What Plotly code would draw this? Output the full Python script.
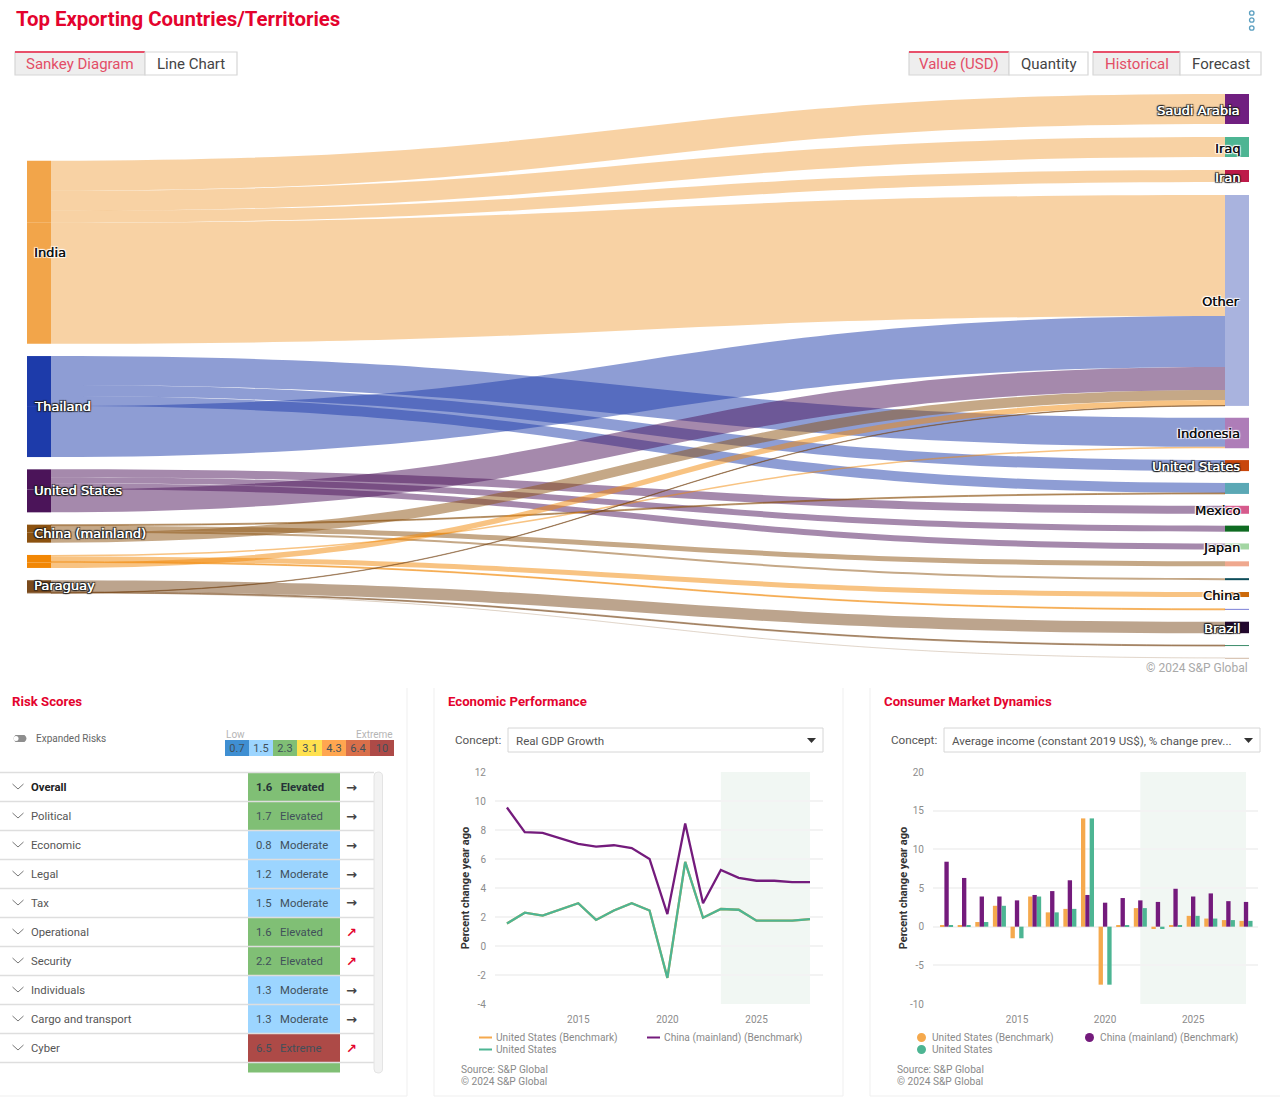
import plotly.graph_objects as go

W, H = 1280, 1112
SANS = "Roboto, Arial, sans-serif"
LAB = "DejaVu Sans, sans-serif"
RED = "#E4032E"
GREY = "#8C8C8C"

# ---- data ----
source_names = ["India", "Thailand", "United States", "China (mainland)", "", "Paraguay"]
source_colors = ["#F2A54A", "#1D3BAA", "#4B1459", "#8C5210", "#F28705", "#7A4A1C"]
target_names = ["Saudi Arabia", "Iraq", "Iran", "Other", "Indonesia", "United States", "", "Mexico", "",
                "Japan", "", "", "China", "", "Brazil", "", ""]
target_colors = ["#701F80", "#4DB593", "#BD1A49", "#A9B3DE", "#AE7DB8", "#C9460B", "#5BA8B5", "#D65A8C", "#0F6B22",
                 "#A3D6A3", "#EFA88E", "#0E4D5A", "#CC6A0A", "#7B7FD6", "#22082E", "#3C8C6A", "#A0704A"]
# exports (source index, target index, value)
link_source = [0, 0, 0, 0,  1, 1, 1, 1,  2, 2, 2, 2,  3, 3, 3, 3,  4, 4, 4, 4,  5, 5, 5, 5]
link_target = [0, 1, 2, 3,  4, 5, 6, 3,  7, 8, 9, 3,  6, 10, 11, 3,  4, 12, 13, 3,  14, 15, 16, 3]
link_value = [30, 20, 12, 121,  29, 11, 10, 51,  8, 6, 6, 23,  1, 5, 2, 10,  1.5, 5, 1, 5.5,  11.5, 1, 0.1, 0.4]

years = list(range(2011, 2029))
gdp_china = [9.55, 7.85, 7.8, 7.4, 7.05, 6.85, 6.95, 6.75, 6.0, 2.2, 8.45, 2.95, 5.25, 4.7, 4.5, 4.5, 4.4, 4.4]
gdp_us = [1.55, 2.3, 2.1, 2.5, 2.95, 1.8, 2.45, 2.95, 2.45, -2.2, 5.8, 1.95, 2.55, 2.5, 1.75, 1.75, 1.75, 1.85]
inc_china = [8.4, 6.3, 3.9, 3.9, 3.4, 4.1, 4.6, 6.0, 4.1, 3.1, 3.7, 3.4, 3.2, 4.9, 3.9, 4.3, 3.3, 3.2]
inc_us = [0.2, 0.2, 0.6, 2.7, -1.5, 3.9, 1.85, 2.3, 14, -7.5, 0.2, 2.4, -0.3, 0.2, 1.4, 1.05, 0.85, 0.75]
gdp_ticks = [-4, -2, 0, 2, 4, 6, 8, 10, 12]
inc_ticks = [-10, -5, 0, 5, 10, 15, 20]

risk_names = ["Overall", "Political", "Economic", "Legal", "Tax", "Operational", "Security", "Individuals",
              "Cargo and transport", "Cyber", "Criminal risk"]
risk_scores = [1.6, 1.7, 0.8, 1.2, 1.5, 1.6, 2.2, 1.3, 1.3, 6.5, 1.9]
risk_levels = ["Elevated", "Elevated", "Moderate", "Moderate", "Moderate", "Elevated", "Elevated", "Moderate",
               "Moderate", "Extreme", "Elevated"]
risk_trend = ["→", "→", "→", "→", "→", "↗", "↗", "→", "→", "↗", "→"]
level_colors = {"Moderate": "#9CD5FF", "Elevated": "#80BF75", "Extreme": "#AD4A47"}
scale_values = [0.7, 1.5, 2.3, 3.1, 4.3, 6.4, 10]
scale_colors = ["#3F8FD2", "#9CD5FF", "#80BF75", "#FFE14F", "#FFA650", "#D96F4A", "#AD4A47"]

C_US, C_CN, C_GR = "#F5A94D", "#741B7C", "#4DB593"


def rgba(hexc, a):
    return f"rgba({int(hexc[1:3],16)},{int(hexc[3:5],16)},{int(hexc[5:7],16)},{a})"


def px(x):
    return x / W


def py(y):
    return 1 - y / H


shapes, ann = [], []


def text(x, y, s, size=12, color="#333", anchor="left", font=SANS, v="middle", shadow=None, **kw):
    f = dict(family=font, size=size, color=color)
    if shadow:
        f["shadow"] = shadow
    ann.append(dict(xref="paper", yref="paper", x=px(x), y=py(y), text=s, showarrow=False, xanchor=anchor,
                    yanchor=v, font=f, borderpad=0, **kw))


def rect(x0, y0, x1, y1, fill=None, line=None, lw=1):
    shapes.append(dict(type="rect", xref="paper", yref="paper", x0=px(x0), x1=px(x1), y0=py(y0), y1=py(y1),
                       fillcolor=fill or "rgba(0,0,0,0)", line=dict(color=line or "rgba(0,0,0,0)", width=lw if line else 0)))


def path(d, fill=None, line=None, lw=1):
    shapes.append(dict(type="path", xref="paper", yref="paper", path=d, fillcolor=fill or "rgba(0,0,0,0)",
                       line=dict(color=line or "rgba(0,0,0,0)", width=lw if line else 0)))


def P(x, y):
    return f"{px(x)},{py(y)}"


# ---- sankey layout, derived from the values (1 value unit = 1 px) ----
S_TOP, S_BOT = 94, 658
S_H = S_BOT - S_TOP
NODE_W = 24
LEFT_X, RIGHT_X = 39, 1237
OTHER = target_names.index("Other")
src_total = [sum(v for s, v in zip(link_source, link_value) if s == i) for i in range(len(source_names))]
src_other = [sum(v for s, t, v in zip(link_source, link_target, link_value) if s == i and t == OTHER)
             for i in range(len(source_names))]
tgt_total = [sum(v for t, v in zip(link_target, link_value) if t == i) for i in range(len(target_names))]
gap_top = 13  # first three gaps on the right
gap_r = (S_H - sum(tgt_total) - 3 * gap_top) / (len(tgt_total) - 4)
gap_l = 12.3
tgt_y0 = []
y = S_TOP
for i, v in enumerate(tgt_total):
    tgt_y0.append(y)
    y += v + (gap_top if i < 3 else gap_r)
src_y0 = []
y = S_TOP + (S_H - sum(src_total) - gap_l * 5) / 2 + 1
for v in src_total:
    src_y0.append(y)
    y += v + gap_l


def sankey_trace(others):
    """Each source's flows to 'Other' leave from the bottom of its node, so they are drawn as their own layer."""
    picks = [i for i, t in enumerate(link_target) if (t == OTHER) == others]
    tg = [OTHER] if others else [i for i in range(len(target_names)) if i != OTHER]
    n_s = len(source_names)
    total = sum(link_value[i] for i in picks)  # domain of this height with no padding gives 1 value unit = 1 px
    labels, colors, xs, ys = [], [], [], []
    for i in range(n_s):
        part = src_other[i] if others else src_total[i] - src_other[i]
        top = src_y0[i] + (src_total[i] - src_other[i] if others else 0)
        labels.append("")
        colors.append(source_colors[i])
        xs.append(LEFT_X / W)
        ys.append((top + part / 2 - S_TOP) / total)
    for t in tg:
        labels.append("")
        colors.append(target_colors[t])
        xs.append(RIGHT_X / W)
        ys.append((tgt_y0[t] + tgt_total[t] / 2 - S_TOP) / total)
    return go.Sankey(
        arrangement="fixed", domain=dict(x=[0, 1], y=[py(S_TOP + total), py(S_TOP)]),
        node=dict(label=labels, color=colors, x=xs, y=ys, pad=0, thickness=NODE_W, line=dict(width=0)),
        link=dict(source=[link_source[i] for i in picks],
                  target=[n_s + tg.index(link_target[i]) for i in picks],
                  value=[link_value[i] for i in picks],
                  color=[rgba(source_colors[link_source[i]], 0.5 if link_value[i] > 0.2 else 0.12) for i in picks],
                  line=dict(width=0)),
        textfont=dict(size=1, color="rgba(0,0,0,0)"))


traces = [sankey_trace(False), sankey_trace(True)]

DARK = "0.3px 0 0 #111, 0 0 1px #fff, 1px 1px 1px #fff, -1px -1px 1px #fff, 1px -1px 1px #fff, -1px 1px 1px #fff"
LIGHT = "0.3px 0 0 #fff, 0 0 1px #222, 1px 1px 1px #222, -1px -1px 1px #222, 1px -1px 1px #222, -1px 1px 1px #222"
for i, n in enumerate(source_names):
    if n:
        text(32.5, src_y0[i] + src_total[i] / 2 - (0 if i != 5 else 1), n, 13, "#fff" if i else "#111", font=LAB,
             shadow=LIGHT if i else DARK)
light_t = {"Saudi Arabia", "Iran", "United States", "Brazil"}
for i, n in enumerate(target_names):
    if n:
        t = n in light_t
        text(1241, tgt_y0[i] + tgt_total[i] / 2 + 1, n, 13, "#fff" if t else "#111", "right", LAB,
             shadow=LIGHT if t else DARK)
text(1249, 668, "© 2024 S&P Global", 12, "#A8A8A8", "right")

# ---- header ----
text(15, 19, "<b>Top Exporting Countries/Territories</b>", 20.4, RED)
for cy in (13, 20, 28):
    shapes.append(dict(type="circle", xref="paper", yref="paper", x0=px(1249.5), x1=px(1254), y0=py(cy + 2.2),
                       y1=py(cy - 2.2), line=dict(color="#5B9FC0", width=1.3), fillcolor="white"))


def button(x0, x1, label, on):
    rect(x0, 52, x1, 75, "#EEEEEE" if on else "white", "#D6D6D6", 1.2)
    if on:
        rect(x0, 51, x1, 53, "#E8506A")
    text((x0 + x1) / 2, 63.5, label, 15, "#E34D66" if on else "#444", "center")


for b in [(15, 145, "Sankey Diagram", True), (145, 237, "Line Chart", False), (909, 1009, "Value (USD)", True),
          (1009, 1088, "Quantity", False), (1093, 1180, "Historical", True), (1180, 1261, "Forecast", False)]:
    button(*b)

# ---- panels ----
for x in (407, 434, 843, 870):
    shapes.append(dict(type="line", xref="paper", yref="paper", x0=px(x), x1=px(x), y0=py(688), y1=py(1096),
                       line=dict(color="#EFEFEF", width=1)))
for a, b in ((0, 407), (434, 843), (870, 1280)):
    shapes.append(dict(type="line", xref="paper", yref="paper", x0=px(a), x1=px(b), y0=py(1096), y1=py(1096),
                       line=dict(color="#EFEFEF", width=1)))
text(10.5, 701, "<b>Risk Scores</b>", 13.2, RED)
text(446.5, 701, "<b>Economic Performance</b>", 13.2, RED)
text(882.5, 701, "<b>Consumer Market Dynamics</b>", 13.2, RED)

# ---- risk panel ----
path(f"M{P(15.5,735)} L{P(24.5,735)} Q{P(28.5,738.5)} {P(24.5,742)} L{P(15.5,742)} Q{P(11.5,738.5)} {P(15.5,735)} Z", "#8E8E8E")
shapes.append(dict(type="circle", xref="paper", yref="paper", x0=px(13.5), x1=px(18.5), y0=py(741), y1=py(736),
                   fillcolor="white", line=dict(width=0)))
text(35, 738.5, "Expanded Risks", 10, "#666")
text(225, 734, "Low", 10, "#B5B5B5")
text(394, 734, "Extreme", 10, "#B5B5B5", "right")

ROW_TOP, ROW_H, T_BOT, T_R = 772.5, 29, 1073, 374
HEAD_H = 16  # an empty table header still takes its padding
traces.append(go.Table(
    domain=dict(x=[0, px(T_R)], y=[py(T_BOT), py(ROW_TOP - HEAD_H)]),
    columnwidth=[23, 225, 92, 34],
    header=dict(values=None, height=0, line=dict(width=0), fill=dict(color="rgba(0,0,0,0)")),
    cells=dict(
        values=[[""] * len(risk_names),
                [f"<b>{n}</b>" if i == 0 else f"{n}&nbsp;" for i, n in enumerate(risk_names)],
                [(f"<b>{s:.1f}&nbsp;&nbsp;&nbsp;{l}</b>" if i == 0 else f"{s:.1f}&nbsp;&nbsp;&nbsp;{l}")
                 for i, (s, l) in enumerate(zip(risk_scores, risk_levels))],
                [""] * len(risk_names)],
        height=ROW_H,
        line=dict(width=0),
        fill=dict(color=[["white"] * len(risk_names), ["white"] * len(risk_names),
                         [level_colors[l] for l in risk_levels], ["white"] * len(risk_names)]),
        font=dict(family=SANS, size=11.3,
                  color=[["#444"] * len(risk_names),
                         ["#222" if i == 0 else "#555" for i in range(len(risk_names))],
                         ["#263238" if i == 0 else "#41505A" for i in range(len(risk_names))],
                         ["#444"] * len(risk_names)]),
        align="left")))
for i in range(len(risk_names)):
    ry = ROW_TOP + i * ROW_H
    shapes.append(dict(type="line", xref="paper", yref="paper", x0=0, x1=px(T_R), y0=py(ry), y1=py(ry),
                       line=dict(color="#DEDEDE", width=1.5)))
    if ry + 14 < T_BOT:
        path(f"M{P(12.5,ry+11.5)} L{P(18,ry+16.5)} L{P(23.5,ry+11.5)}", None, "#777", 1)
        text(351, ry + 14.5, f"<b>{risk_trend[i]}</b>", 13, "#444" if risk_trend[i] == "→" else RED, "center", LAB)
path(f"M{P(374,776)} Q{P(374,772)} {P(378,772)} Q{P(382.5,772)} {P(382.5,776)} L{P(382.5,1069)} Q{P(382.5,1073)} {P(378,1073)} "
     f"Q{P(374,1073)} {P(374,1069)} Z", "#F3F3F3", "#E4E4E4", 1)

# colour scale
traces.append(go.Heatmap(
    z=[list(range(len(scale_values)))], x=[str(v) for v in scale_values], y=["scale"],
    text=[[str(v) for v in scale_values]], texttemplate="%{text}", textfont=dict(family=SANS, size=11, color="#41505A"),
    colorscale=[[i / (len(scale_colors) - 1), c] for i, c in enumerate(scale_colors)], showscale=False,
    xaxis="x3", yaxis="y3", hoverinfo="skip"))


# ---- dropdowns ----
def dropdown(lx, x0, x1, label):
    text(lx, 740, "Concept:", 11.7, "#555")
    rect(x0, 728, x1, 752, "white", "#D6D6D6", 1)
    text(x0 + 7, 740.5, label, 11.6, "#555")
    path(f"M{P(x1-16,738)} L{P(x1-7,738)} L{P(x1-11.5,743)} Z", "#333")


dropdown(454, 508, 823, "Real GDP Growth")
dropdown(890, 944, 1260, "Average income (constant 2019 US$), % change prev...")

# ---- charts ----
LW = 2.3
traces += [
    go.Scatter(x=years, y=gdp_us, name="United States (Benchmark)", mode="lines", line=dict(color=C_US, width=LW), xaxis="x", yaxis="y"),
    go.Scatter(x=years, y=gdp_china, name="China (mainland) (Benchmark)", mode="lines", line=dict(color=C_CN, width=LW), xaxis="x", yaxis="y"),
    go.Scatter(x=years, y=gdp_us, name="United States", mode="lines", line=dict(color=C_GR, width=LW), xaxis="x", yaxis="y"),
    go.Bar(x=years, y=inc_us, name="United States (Benchmark)", marker=dict(color=C_US, line=dict(width=0)), xaxis="x2", yaxis="y2"),
    go.Bar(x=years, y=inc_china, name="China (mainland) (Benchmark)", marker=dict(color=C_CN, line=dict(width=0)), xaxis="x2", yaxis="y2"),
    go.Bar(x=years, y=inc_us, name="United States", marker=dict(color=C_GR, line=dict(width=0)), xaxis="x2", yaxis="y2"),
]
BAND = "#F1F7F3"
shapes.append(dict(type="rect", xref="x", yref="paper", x0=2023, x1=2028, y0=py(1004), y1=py(772), fillcolor=BAND, line=dict(width=0), layer="below"))
shapes.append(dict(type="rect", xref="x2", yref="paper", x0=2022, x1=2028, y0=py(1004), y1=py(772), fillcolor=BAND, line=dict(width=0), layer="below"))


def legend(x_a, x_b, x_c, kind):
    rows = [(x_a, 1037.5, C_US, "United States (Benchmark)"), (x_b, 1037.5, C_CN, "China (mainland) (Benchmark)"),
            (x_a, 1049.5, C_GR, "United States")]
    for x, y_, c, s in rows:
        if kind == "line":
            shapes.append(dict(type="line", xref="paper", yref="paper", x0=px(x), x1=px(x + 13), y0=py(y_), y1=py(y_), line=dict(color=c, width=2)))
        else:
            shapes.append(dict(type="circle", xref="paper", yref="paper", x0=px(x + 2), x1=px(x + 11), y0=py(y_ + 4.5), y1=py(y_ - 4.5), fillcolor=c, line=dict(width=0)))
        text(x + 16, y_, s, 10.2, "#8A8A8A")
    text(x_c, 1069, "Source: S&P Global", 10.2, "#8A8A8A")
    text(x_c, 1081, "© 2024 S&P Global", 10.2, "#8A8A8A")


legend(479, 647, 460, "line")
legend(915, 1083, 896, "dot")

TICK = dict(family=SANS, size=10, color=GREY)


def xaxis(x0, x1, rng, anchor):
    return dict(domain=[px(x0), px(x1)], range=rng, tickvals=[2015, 2020, 2025], showgrid=False, zeroline=False,
                showline=False, ticks="", tickfont=TICK, ticklabelstandoff=8, anchor=anchor, fixedrange=True)


def yaxis(anchor, ticks, standoff):
    return dict(domain=[py(1004), py(772)], range=[ticks[0], ticks[-1]], tickvals=ticks, ticktext=[str(t) for t in ticks],
                gridcolor="#F3F3F3", gridwidth=1.5, zeroline=False, showline=False, ticks="", tickfont=TICK,
                ticklabelstandoff=8, anchor=anchor, fixedrange=True,
                title=dict(text="<b>Percent change year ago</b>", font=dict(family=SANS, size=11, color="#333"), standoff=standoff))


layout = dict(
    width=W, height=H, margin=dict(l=0, r=0, t=0, b=0, autoexpand=False), paper_bgcolor="white", plot_bgcolor="white",
    showlegend=False, barmode="group", bargap=0.26, bargroupgap=0, font=dict(family=SANS),
    xaxis=xaxis(495, 823, [2010.33, 2028.73], "y"), yaxis=yaxis("x", gdp_ticks, 2),
    xaxis2=xaxis(933, 1258, [2010.23, 2028.68], "y2"), yaxis2=yaxis("x2", inc_ticks, 0),
    xaxis3=dict(domain=[px(225), px(394)], visible=False, anchor="y3", fixedrange=True),
    yaxis3=dict(domain=[py(756), py(740)], visible=False, anchor="x3", fixedrange=True),
    shapes=shapes, annotations=ann)

fig = go.Figure(traces, layout)
fig.write_html("out.html", config=dict(displayModeBar=False), post_script="document.body.style.margin='0';")
